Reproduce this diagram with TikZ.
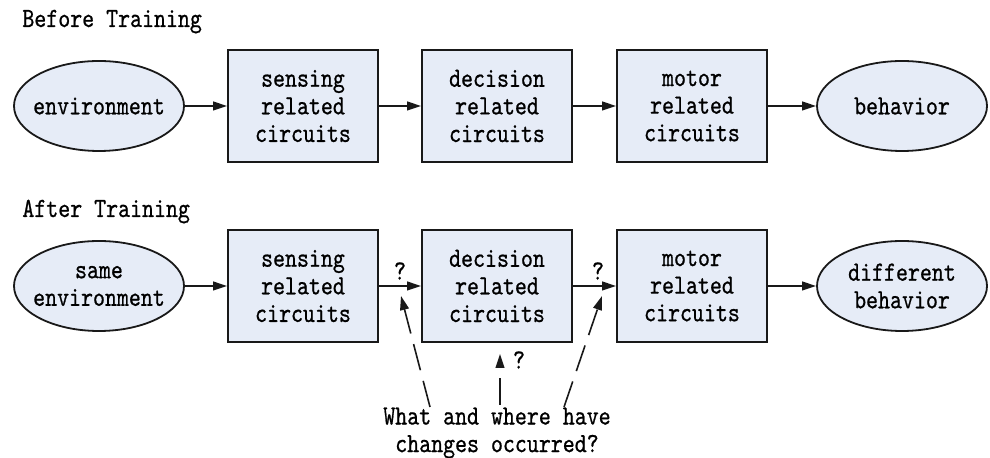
\documentclass[tikz,border=0pt]{standalone}
\usetikzlibrary{arrows.meta,shapes.geometric}
\definecolor{boxfill}{RGB}{230,236,247}
\definecolor{edge}{RGB}{25,25,25}
% narrow, slightly heavier typewriter face for all labels
\font\diagfont="[lmmono10-regular]:extend=0.82;embolden=0.7" at 13.9pt
\begin{document}
\begin{tikzpicture}[x=0.5pt,y=-0.5pt,
  every node/.style={font=\fontsize{13.9}{13.8}\selectfont\diagfont, text=black},
  circuit/.style={draw=edge, line width=0.9pt, fill=boxfill, minimum width=75pt,
    minimum height=56pt, align=center, inner sep=0pt},
  scene/.style={ellipse, draw=edge, line width=0.9pt, fill=boxfill, minimum width=85pt,
    minimum height=45pt, align=center, inner xsep=-20pt, inner ysep=-10pt},
  flow/.style={-{Triangle[length=7pt,width=4.4pt]}, line width=0.8pt, draw=edge},
  query/.style={flow, dash pattern=on 13.5pt off 5.5pt},
  heading/.style={anchor=base west, inner sep=0pt},
  qlabel/.style={inner sep=0pt},
]
\useasboundingbox (0,0) rectangle (990,458);

% ---- before training ----
\node[heading] (before) at (22,27) {Before Training};
\node[scene]   (env1)   at (99,106)  {environment};
\node[circuit] (sense1) at (303,106) {sensing\\related\\circuits};
\node[circuit] (dec1)   at (497,106) {decision\\related\\circuits};
\node[circuit] (mot1)   at (692,106) {motor\\related\\circuits};
\node[scene]   (beh1)   at (902,106) {behavior};
\draw[flow] (env1) -- (sense1);
\draw[flow] (sense1) -- (dec1);
\draw[flow] (dec1) -- (mot1);
\draw[flow] (mot1) -- (beh1);

% ---- after training ----
\node[heading] (after) at (22,217) {After Training};
\node[scene]   (env2)   at (99,286)  {same\\environment};
\node[circuit] (sense2) at (303,286) {sensing\\related\\circuits};
\node[circuit] (dec2)   at (497,286) {decision\\related\\circuits};
\node[circuit] (mot2)   at (692,286) {motor\\related\\circuits};
\node[scene]   (beh2)   at (902,286) {different\\behavior};
\draw[flow] (env2) -- (sense2);
\draw[flow] (sense2) -- (dec2);
\draw[flow] (dec2) -- (mot2);
\draw[flow] (mot2) -- (beh2);

% question marks on the links and below the decision stage
\node[qlabel] (q1) at (400,271) {?};
\node[qlabel] (q2) at (598,271) {?};
\node[qlabel] (q3) at (519,360) {?};

% caption and its pointers
\node[align=center, inner sep=0pt] (ask) at (497,433)
  {What and where have\\changes occurred?};
\coordinate (s1) at (430,407);
\coordinate (t1) at (401,296);
\coordinate (s2) at (500,405);
\coordinate (t2) at (500,354);
\coordinate (s3) at (564,407);
\coordinate (t3) at (602,296);
\draw[query] (s1) -- (t1);
\draw[query] (s2) -- (t2);
\draw[query] (s3) -- (t3);
\end{tikzpicture}
\end{document}
